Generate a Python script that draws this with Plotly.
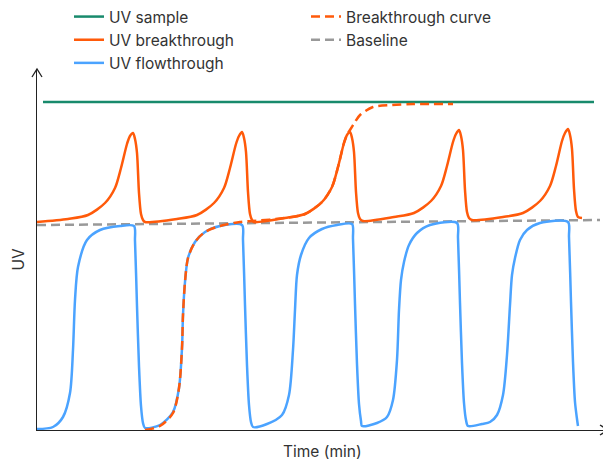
import plotly.graph_objects as go

# ---- data (time in arbitrary minutes, UV in arbitrary units) ----
sample_t = [6, 557]
sample_u = [328, 328]

breakthrough_t = [0, 31, 51, 68, 78, 84, 90, 93, 96, 98, 100, 102, 104, 106, 108,
                  140, 160, 177, 187, 193, 199, 202, 205, 207, 209, 211, 213, 215, 217,
                  248, 268, 285, 295, 301, 307, 310, 313, 315, 317, 319, 321, 323, 326,
                  357, 377, 394, 404, 410, 416, 419, 422, 424, 426, 428, 430, 432, 435,
                  466, 486, 503, 513, 519, 525, 528, 531, 533, 535, 537, 539, 541, 545]
breakthrough_u = [208, 211, 215, 227, 242, 262, 286, 294, 297, 291, 277, 237, 216, 210, 208,
                  211, 215, 227, 242, 262, 286, 294, 298, 292, 278, 238, 216, 210, 208,
                  212, 216, 228, 243, 263, 287, 295, 298, 292, 278, 238, 217, 211, 209,
                  213, 217, 229, 244, 264, 288, 296, 300, 294, 280, 240, 218, 212, 210,
                  213, 217, 229, 244, 264, 289, 297, 301, 295, 281, 241, 219, 213, 212]

flow_t = [0, 16, 26, 33, 36, 38, 41, 50, 63, 83, 97,
          98, 100, 102, 104, 106, 108,
          123, 136, 142, 145, 146, 148, 151, 158, 168, 183, 205,
          206, 208, 210, 212, 214, 216,
          230, 245, 252, 256, 258, 260, 264, 272, 285, 300, 315,
          316, 318, 320, 322, 324, 325,
          340, 350, 356, 360, 362, 364, 367, 372, 380, 393, 420,
          421, 423, 425, 427, 429, 431,
          445, 453, 460, 466, 470, 473, 475, 478, 483, 490, 503, 531,
          532, 534, 536, 538, 540, 541]
flow_u = [1, 3, 13, 37, 80, 130, 163, 190, 200, 204, 204,
          189, 124, 64, 24, 7, 2,
          5, 18, 42, 82, 115, 148, 172, 188, 198, 204, 205,
          190, 125, 65, 25, 8, 3,
          6, 15, 35, 80, 120, 155, 175, 192, 201, 205, 206,
          191, 126, 66, 26, 9, 4,
          7, 13, 30, 70, 120, 150, 168, 185, 197, 205, 207,
          192, 127, 67, 27, 10, 4,
          6, 8, 15, 35, 75, 125, 155, 172, 190, 200, 207, 208,
          193, 128, 68, 28, 11, 4]

curve_t = [108, 123, 136, 142, 145, 146, 148, 151, 158, 168, 183, 203, 216,
           248, 268, 285, 295, 301, 307, 310, 313, 318, 323, 336, 355, 376, 416]
curve_u = [0, 4, 17, 42, 82, 115, 148, 172, 188, 198, 204, 208, 209,
           212, 216, 228, 243, 263, 287, 295, 300, 308, 315, 323, 325, 326, 326]

baseline_t = [0, 563]
baseline_u = [205, 210]

GREEN = "#188a6c"
ORANGE = "#ff5a0a"
BLUE = "#4ba3ff"
GRAY = "#999999"
FONT = "Inter"
TXT = "#333333"
FS = 15.5

fig = go.Figure()

fig.add_trace(go.Scatter(x=baseline_t, y=baseline_u, mode="lines", name="Baseline",
                         line=dict(color=GRAY, width=2.5, dash="9px,5px"),
                         legend="legend2", legendrank=2))
fig.add_trace(go.Scatter(x=flow_t, y=flow_u, mode="lines", name="UV flowthrough",
                         line=dict(color=BLUE, width=2.5, shape="spline", smoothing=0.8),
                         legend="legend", legendrank=3))
fig.add_trace(go.Scatter(x=breakthrough_t, y=breakthrough_u, mode="lines", name="UV breakthrough",
                         line=dict(color=ORANGE, width=2.5, shape="spline", smoothing=0.8),
                         legend="legend", legendrank=2))
fig.add_trace(go.Scatter(x=sample_t, y=sample_u, mode="lines", name="UV sample",
                         line=dict(color=GREEN, width=2.5),
                         legend="legend", legendrank=1))
fig.add_trace(go.Scatter(x=curve_t, y=curve_u, mode="lines", name="Breakthrough curve",
                         line=dict(color=ORANGE, width=2.5, dash="9px,5px", shape="spline", smoothing=0.8),
                         legend="legend2", legendrank=1))

# page has an 8px body margin, so the figure is 8px smaller than the window
W, H = 603, 452
L, R, T, B = 29, 3, 61, 30
pw, ph = W - L - R, H - T - B

axis_common = dict(showgrid=False, zeroline=False, showticklabels=False, ticks="",
                   showline=True, linecolor="#222222", linewidth=1.3, fixedrange=True)

# chevron arrow heads in paper coordinates
ax_dx, ax_dy = 8 / pw, 5 / ph
ay_dx, ay_dy = 5 / pw, 8 / ph
shapes = [
    dict(type="path", xref="paper", yref="paper",
         path=f"M {1-ax_dx},{ax_dy} L 1,0 L {1-ax_dx},{-ax_dy}",
         line=dict(color="#222222", width=1.3)),
    dict(type="path", xref="paper", yref="paper",
         path=f"M {-ay_dx},{1-ay_dy} L 0,1 L {ay_dx},{1-ay_dy}",
         line=dict(color="#222222", width=1.3)),
]

legend_common = dict(orientation="v", xref="paper", yref="paper",
                     xanchor="left", yanchor="top", bgcolor="rgba(0,0,0,0)",
                     font=dict(family=FONT, size=FS, color=TXT), itemwidth=30,
                     traceorder="normal")

leg_top = 1 + (T + 8) / ph
fig.update_layout(
    width=W, height=H,
    margin=dict(l=L, r=R, t=T, b=B, autoexpand=False),
    plot_bgcolor="white", paper_bgcolor="white",
    font=dict(family=FONT, size=FS, color=TXT),
    xaxis=dict(range=[0, pw], **axis_common),
    yaxis=dict(range=[0, ph], **axis_common),
    showlegend=True,
    legend=dict(x=(61 - L) / pw, y=leg_top, **legend_common),
    legend2=dict(x=(298 - L) / pw, y=leg_top, **legend_common),
    shapes=shapes,
    annotations=[
        dict(text="Time (min)", xref="paper", yref="paper", x=0.5, y=0,
             xanchor="center", yanchor="top", yshift=-10, showarrow=False,
             font=dict(family=FONT, size=FS, color=TXT)),
        dict(text="UV", xref="paper", yref="paper", x=0, y=(430 - 259) / ph,
             xanchor="right", yanchor="middle", xshift=-8, textangle=-90,
             showarrow=False, font=dict(family=FONT, size=FS, color=TXT)),
    ],
)

fig.write_html("out.html")
